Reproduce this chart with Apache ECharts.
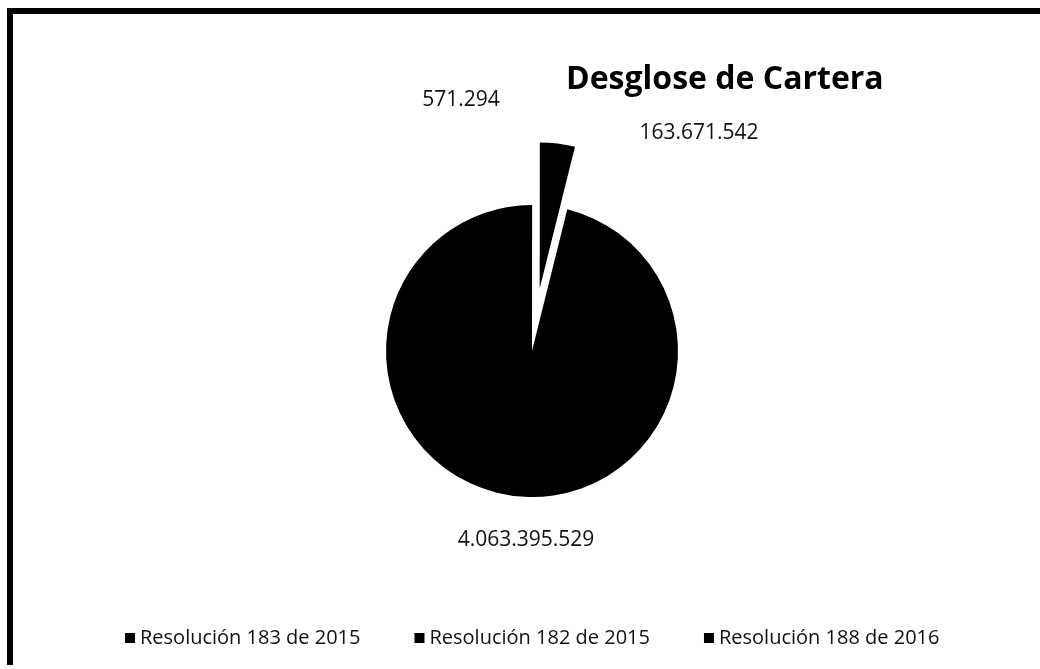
<!DOCTYPE html>
<html>
<head>
<meta charset="utf-8">
<script src="https://cdn.jsdelivr.net/npm/echarts@6/dist/echarts.min.js"></script>
<style>
html,body{margin:0;padding:0;background:#fff;}
#chart{width:1040px;height:669px;}
</style>
</head>
<body>
<div id="chart"></div>
<script>
const titleText = 'Desglose de Cartera';
const categories = ['Resolución 183 de 2015', 'Resolución 182 de 2015', 'Resolución 188 de 2016'];
const values = [571294, 163671542, 4063395529];
const exploded = [false, true, false];
const sliceColors = ['#000000', '#000000', '#000000'];

// label anchor positions (chart pixels), by data index
const labelPos = [[461, 100], [699, 133], [526, 540]];

function fmt(v) {
  return String(v).replace(/\B(?=(\d{3})+(?!\d))/g, '.');
}

const explodeOffset = 63;
const total = values.reduce((a, b) => a + b, 0);
// shift that the select state applies to an exploded slice (and its label)
const selShift = values.map((v, i) => {
  if (!exploded[i]) return [0, 0];
  const before = values.slice(0, i).reduce((a, b) => a + b, 0);
  const mid = (before + v / 2) / total * 2 * Math.PI;
  return [explodeOffset * Math.sin(mid), -explodeOffset * Math.cos(mid)];
});

const chart = echarts.init(document.getElementById('chart'), null, {renderer: 'canvas'});
const font = "'Open Sans', 'Liberation Sans', sans-serif";

chart.setOption({
  animation: false,
  backgroundColor: '#ffffff',
  title: {
    text: titleText,
    left: 566,
    top: 64,
    padding: 0,
    textStyle: {fontFamily: font, fontWeight: 'bold', fontSize: 32, color: '#000'}
  },
  legend: {
    data: categories,
    left: 125,
    top: 628,
    icon: 'rect',
    itemWidth: 10,
    itemHeight: 10,
    itemGap: 54,
    padding: 0,
    selectedMode: false,
    textStyle: {fontFamily: font, fontSize: 20, color: '#111'}
  },
  graphic: [
    {type: 'rect', shape: {x: 7, y: 8, width: 1033, height: 6}, style: {fill: '#000'}, silent: true},
    {type: 'rect', shape: {x: 7, y: 8, width: 6, height: 657}, style: {fill: '#000'}, silent: true}
  ],
  series: [{
    type: 'pie',
    center: [532, 351],
    radius: 146,
    startAngle: 90,
    clockwise: true,
    selectedMode: 'multiple',
    selectedOffset: explodeOffset,
    avoidLabelOverlap: false,
    itemStyle: {borderColor: '#fff', borderWidth: 0},
    label: {
      show: true,
      position: 'outside',
      alignTo: 'none',
      formatter: p => fmt(p.value),
      fontFamily: font,
      fontSize: 21,
      color: '#111'
    },
    labelLine: {show: false},
    labelLayout: function (params) {
      const i = params.dataIndex;
      const p = labelPos[i];
      const r = params.labelRect;
      return {
        dx: p[0] - (r.x + r.width / 2) - selShift[i][0],
        dy: p[1] - (r.y + r.height / 2) - selShift[i][1]
      };
    },
    emphasis: {disabled: true},
    data: categories.map((c, i) => ({
      name: c,
      value: values[i],
      selected: exploded[i],
      itemStyle: {color: sliceColors[i]}
    }))
  }]
});
</script>
</body>
</html>
